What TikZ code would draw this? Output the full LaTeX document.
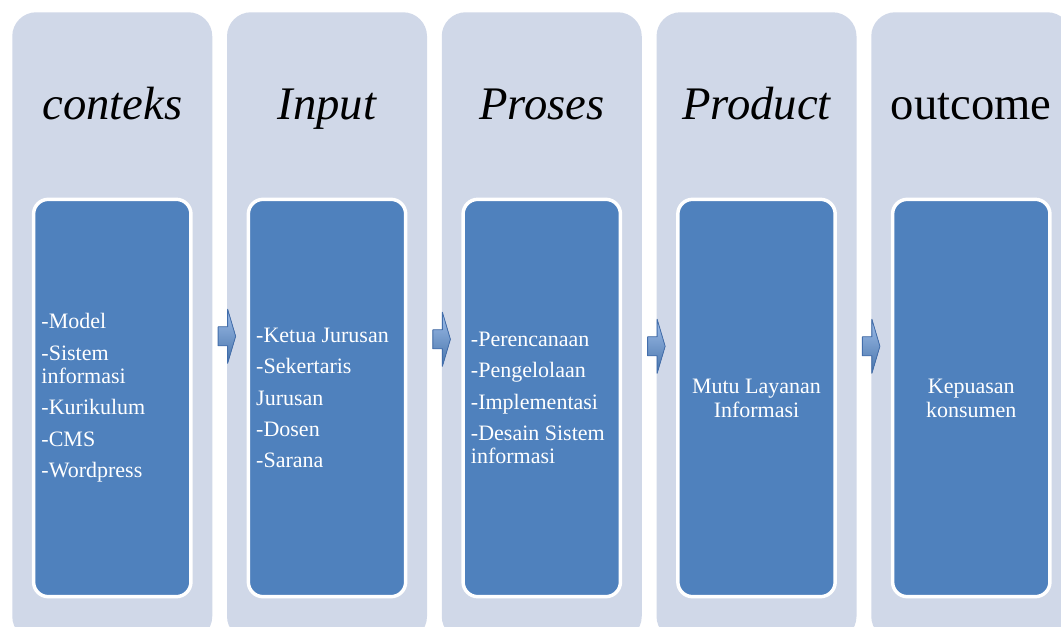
\documentclass[tikz,border=0pt]{standalone}
\usepackage{fontspec}
\setmainfont{Liberation Serif}
\usepackage{tikz}
\usetikzlibrary{positioning,calc}
\definecolor{colbg}{RGB}{208,216,232}
\definecolor{boxblue}{RGB}{79,129,189}
\definecolor{arrlight}{RGB}{160,190,234}
\definecolor{arrdark}{RGB}{66,110,172}
\newcommand{\stagecol}[3]{%
  \node[outbox] (#1) at (#2,614) {};
  \node[ttl] (#1t) at ($(#1.north)+(0,-81pt)$) {#3};
  \node[inbox] (#1b) at ($(#1.north)+(0,-289.5pt)$) {};}
\newcommand{\flowarr}[1]{%
  \filldraw[farr] ($(#1)+(-1.5,9.5)$) -- ++(9.5,0) -- ++(0,17.5) -- ++(8,-27)
    -- ++(-8,-27) -- ++(0,17.5) -- ++(-9.5,0) -- cycle;}
\tikzset{
  outbox/.style={fill=colbg, rounded corners=18pt, minimum width=150pt,
    minimum height=471pt, inner sep=0pt, anchor=north west},
  inbox/.style={fill=boxblue, draw=white, line width=2.6pt, rounded corners=11pt,
    minimum width=118pt, minimum height=298pt, inner sep=0pt},
  ttl/.style={font=\fontsize{35}{40}\selectfont\itshape, anchor=base, inner sep=0pt},
  itm/.style={font=\fontsize{16.5}{17.5}\selectfont, text=white, align=left,
    inner sep=0pt},
  ctr/.style={font=\fontsize{16.5}{18}\selectfont, text=white, align=center,
    inner sep=0pt},
  farr/.style={draw=arrdark, line width=0.6pt, top color=arrlight,
    bottom color=boxblue!90!black, line join=round},
}
\begin{document}
\begin{tikzpicture}[x=0.75pt, y=0.75pt]
  \clip (0,0) rectangle (1061,626);
  \fill[white] (0,0) rectangle (1061,626);
  \stagecol{c1}{12}{conteks}
  \stagecol{c2}{226.75}{Input}
  \stagecol{c3}{441.5}{Proses}
  \stagecol{c4}{656.25}{Product}
  \stagecol{c5}{871}{\upshape outcome}
  % items in the blue boxes
  \node[itm, right=7pt of c1b.west, anchor=west] (t1)
    {-Model\\[6pt]-Sistem\\informasi\\[6pt]-Kurikulum\\[6pt]-CMS\\[6pt]-Wordpress};
  \node[itm, right=7pt of c2b.west, anchor=west] (t2)
    {-Ketua Jurusan\\[6pt]-Sekertaris\\[6pt]Jurusan\\[6pt]-Dosen\\[6pt]-Sarana};
  \node[itm, right=7pt of c3b.west, anchor=west] (t3)
    {-Perencanaan\\[6pt]-Pengelolaan\\[6pt]-Implementasi\\[6pt]-Desain Sistem\\informasi};
  \node[ctr] (t4) at (c4b) {Mutu Layanan\\Informasi};
  \node[ctr] (t5) at (c5b) {Kepuasan\\konsumen};
  % arrows between the columns
  \coordinate (g12) at ($(c1.east)!0.5!(c2.west)+(0,-10)$);
  \coordinate (g23) at ($(c2.east)!0.5!(c3.west)+(0,-13)$);
  \coordinate (g34) at ($(c3.east)!0.5!(c4.west)+(0,-20)$);
  \coordinate (g45) at ($(c4.east)!0.5!(c5.west)+(0,-20)$);
  \flowarr{g12}
  \flowarr{g23}
  \flowarr{g34}
  \flowarr{g45}
\end{tikzpicture}
\end{document}
